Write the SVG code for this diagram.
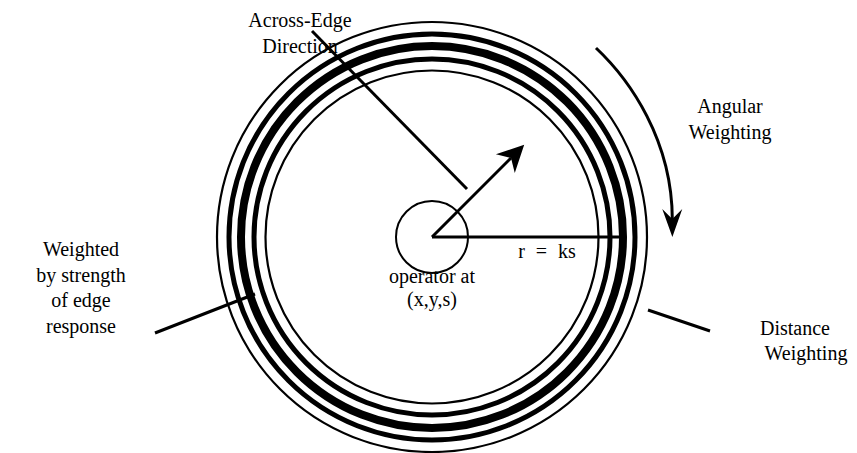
<svg xmlns="http://www.w3.org/2000/svg" width="857" height="453" viewBox="0 0 857 453">
<style>
.t{font-family:'Liberation Serif','DejaVu Serif',serif;font-size:20px;fill:#000;text-anchor:middle}
.ring{fill:none;stroke:#000}
.ln{fill:none;stroke:#000;stroke-width:3}
</style>
<defs>
<marker id="ah1" markerUnits="userSpaceOnUse" markerWidth="40" markerHeight="40" viewBox="-10 -15 30 30" refX="0" refY="0" orient="auto">
<path d="M14,0 L-6,-10 L0,0 L-6,10 Z" fill="#000"/>
</marker>
<marker id="ah2" markerUnits="userSpaceOnUse" markerWidth="40" markerHeight="40" viewBox="-15 -15 40 30" refX="0" refY="0" orient="auto">
<path d="M18,0 L-10,-10 L0,0 L-10,10 Z" fill="#000"/>
</marker>
</defs>
<rect width="857" height="453" fill="#fff"/>
<g id="operator">
<circle class="ring" cx="432" cy="237" r="215" stroke-width="2.2"/>
<circle class="ring" cx="432" cy="237" r="203" stroke-width="5"/>
<circle class="ring" cx="432" cy="237" r="191" stroke-width="8"/>
<circle class="ring" cx="432" cy="237" r="178" stroke-width="5"/>
<circle class="ring" cx="432" cy="237" r="166.5" stroke-width="2.2"/>
<circle class="ring" cx="432" cy="237" r="36" stroke-width="2"/>
</g>
<g id="connectors">
<line class="ln" x1="432" y1="237" x2="622" y2="237"/>
<line class="ln" x1="432" y1="237" x2="511" y2="158" marker-end="url(#ah1)"/>
<line class="ln" x1="312" y1="31" x2="467" y2="189"/>
<path class="ln" d="M596,48 C630,80 672,140 672.3,219" marker-end="url(#ah2)" stroke-width="2"/>
<line class="ln" x1="155" y1="333" x2="255" y2="294"/>
<line class="ln" x1="648" y1="310" x2="710" y2="331"/>
</g>
<g id="label-across">
<text class="t" x="300" y="27">Across-Edge</text>
<text class="t" x="300" y="53">Direction</text>
</g>
<g id="label-angular">
<text class="t" x="730" y="113">Angular</text>
<text class="t" x="730" y="139">Weighting</text>
</g>
<g id="label-r">
<text class="t" x="547" y="258" word-spacing="6">r = ks</text>
</g>
<g id="label-weighted">
<text class="t" x="81" y="256">Weighted</text>
<text class="t" x="81" y="282">by strength</text>
<text class="t" x="81" y="307">of edge</text>
<text class="t" x="81" y="333">response</text>
</g>
<g id="label-operator">
<text class="t" x="432" y="283">operator at</text>
<text class="t" x="432" y="306">(x,y,s)</text>
</g>
<g id="label-distance">
<text class="t" x="795" y="335">Distance</text>
<text class="t" x="806" y="360">Weighting</text>
</g>
</svg>
